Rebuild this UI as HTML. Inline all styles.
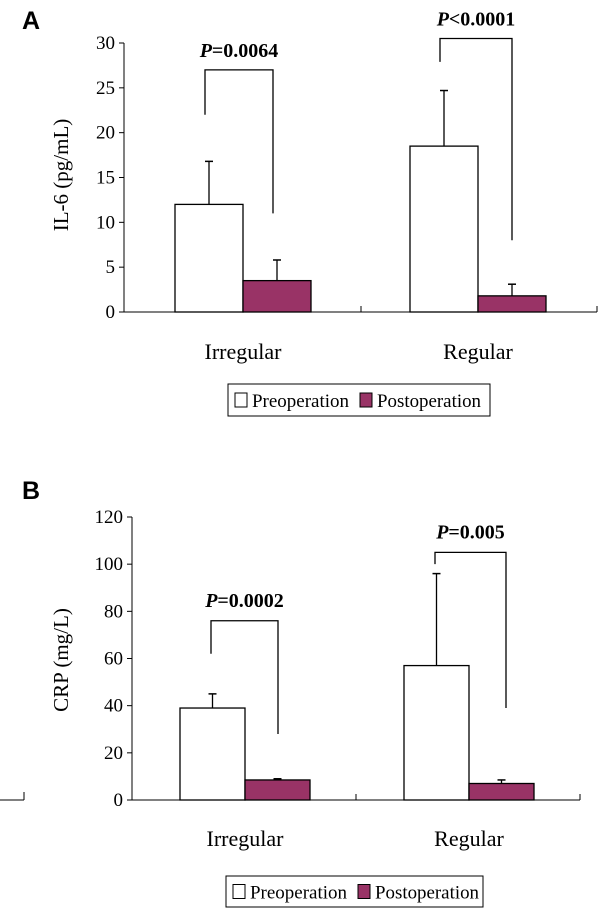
<!DOCTYPE html>
<html><head><meta charset="utf-8"><style>
body{margin:0;background:#fff;}
svg{display:block;font-family:"Liberation Serif",serif;}
</style></head><body>
<svg id="s" width="600" height="913">
<text x="22" y="29" font-family="Liberation Sans, sans-serif" font-weight="bold" font-size="25">A</text>
<text x="22" y="499" font-family="Liberation Sans, sans-serif" font-weight="bold" font-size="25">B</text>
<line x1="0" y1="800" x2="24" y2="800" stroke="#000"/>
<line x1="24" y1="800" x2="24" y2="792" stroke="#000"/>
</svg>
<script>
const categories = ["Irregular","Regular"];
const seriesNames = ["Preoperation","Postoperation"];
const il6Pre = [12, 18.5];
const il6PreErr = [16.8, 24.7];
const il6Post = [3.5, 1.8];
const il6PostErr = [5.8, 3.1];
const il6Ticks = [0,5,10,15,20,25,30];
const il6P = ["=0.0064","<0.0001"];
const crpPre = [39, 57];
const crpPreErr = [45, 96];
const crpPost = [8.5, 7];
const crpPostErr = [9, 8.5];
const crpTicks = [0,20,40,60,80,100,120];
const crpP = ["=0.0002","=0.005"];
const il6Brackets = [[22,27,11],[27.9,30.5,8]];
const crpBrackets = [[62,76,28],[100,105,39]];

const svg = document.getElementById('s');
const NS = 'http://www.w3.org/2000/svg';
function mk(tag, attrs, text){const e=document.createElementNS(NS,tag);for(const k in attrs)e.setAttribute(k,attrs[k]);if(text!=null)e.textContent=text;svg.appendChild(e);return e;}

function panel(cfg){
  const y=v=>cfg.y0-(v-cfg.ticks[0])/(cfg.ticks[cfg.ticks.length-1]-cfg.ticks[0])*(cfg.y0-cfg.yTop);
  let e;
  e=mk('line',{x1:cfg.ax,y1:cfg.yTop,x2:cfg.ax,y2:cfg.y0,stroke:'#000'});
   
  e=mk('line',{x1:cfg.ax,y1:cfg.y0,x2:cfg.axEnd,y2:cfg.y0,stroke:'#000'});
   
  [cfg.mid,cfg.axEnd].forEach(x=>{e=mk('line',{x1:x,y1:cfg.y0,x2:x,y2:cfg.y0-6,stroke:'#000'});
     });
  cfg.ticks.forEach(t=>{
    e=mk('line',{x1:cfg.ax-5,y1:y(t),x2:cfg.ax,y2:y(t),stroke:'#000'});
     
    e=mk('text',{x:cfg.ax-9,y:y(t)+6,'text-anchor':'end','font-size':19},t);
     
  });
  e=mk('text',{x:0,y:0,'font-size':21,'text-anchor':'middle',transform:`translate(${cfg.labX},${cfg.labY}) rotate(-90)`},cfg.ylabel);
   
  categories.forEach((c,i)=>{
    const x0=cfg.barX[i], w=cfg.bw;
    const bars=[[cfg.pre[i],cfg.preErr[i],x0,'#fff','pre'],[cfg.post[i],cfg.postErr[i],x0+w,'#993366','post']];
    bars.forEach(b=>{
      const cx=b[2]+w/2;
      e=mk('line',{x1:cx,y1:y(b[0]),x2:cx,y2:y(b[1]),stroke:'#000','stroke-width':1.3});
       
      e=mk('line',{x1:cx-4,y1:y(b[1]),x2:cx+4,y2:y(b[1]),stroke:'#000','stroke-width':1.5});
       
      e=mk('rect',{x:b[2],y:y(b[0]),width:w,height:cfg.y0-y(b[0]),fill:b[3],stroke:'#000','stroke-width':1.3});
       
    });
    e=mk('text',{x:x0+w,y:cfg.catY,'text-anchor':'middle','font-size':22},c);
     
    const br=cfg.brackets[i], lx=cfg.brX[i][0], rx=cfg.brX[i][1];
    e=mk('polyline',{points:`${lx},${y(br[0])} ${lx},${y(br[1])} ${rx},${y(br[1])} ${rx},${y(br[2])}`,fill:'none',stroke:'#000','stroke-width':1.3});
     
    e=mk('text',{x:(lx+rx)/2,y:y(br[1])-cfg.pOff,'text-anchor':'middle','font-size':20,'font-weight':'bold'});
     
    const ts=document.createElementNS(NS,'tspan');ts.setAttribute('font-style','italic');ts.textContent='P';e.appendChild(ts);
    e.appendChild(document.createTextNode(cfg.p[i]));
  });
  const L=cfg.leg;
  e=mk('rect',{x:L[0],y:L[1],width:L[2],height:L[3],fill:'#fff',stroke:'#000'});
   
  const items=[[L[0]+7,'#fff',seriesNames[0],97],[L[0]+132,'#993366',seriesNames[1],104]];
  items.forEach(it=>{
    e=mk('rect',{x:it[0],y:L[1]+L[3]/2-7,width:12,height:14,fill:it[1],stroke:'#000'});
     
    e=mk('text',{x:it[0]+17,y:L[1]+L[3]/2+7,'font-size':19,'textLength':it[3],'lengthAdjust':'spacingAndGlyphs'},it[2]);
     
  });
}
panel({id:'il6',ticks:il6Ticks,y0:312,yTop:43,ax:124,axEnd:597,mid:361,bw:68,barX:[175,410],
  pre:il6Pre,preErr:il6PreErr,post:il6Post,postErr:il6PostErr,ylabel:'IL-6 (pg/mL)',labX:68,labY:175,
  catY:359,brackets:il6Brackets,brX:[[205,273],[440,512]],p:il6P,pOff:13,
  leg:[228,384,262,32]});
panel({id:'crp',ticks:crpTicks,y0:800,yTop:517,ax:132,axEnd:580,mid:356,bw:65,barX:[180,404],
  pre:crpPre,preErr:crpPreErr,post:crpPost,postErr:crpPostErr,ylabel:'CRP (mg/L)',labX:68,labY:660,
  catY:846,brackets:crpBrackets,brX:[[211,278],[435,506]],p:crpP,pOff:14,
  leg:[226,876,257,31]});
</script>
</body></html>
